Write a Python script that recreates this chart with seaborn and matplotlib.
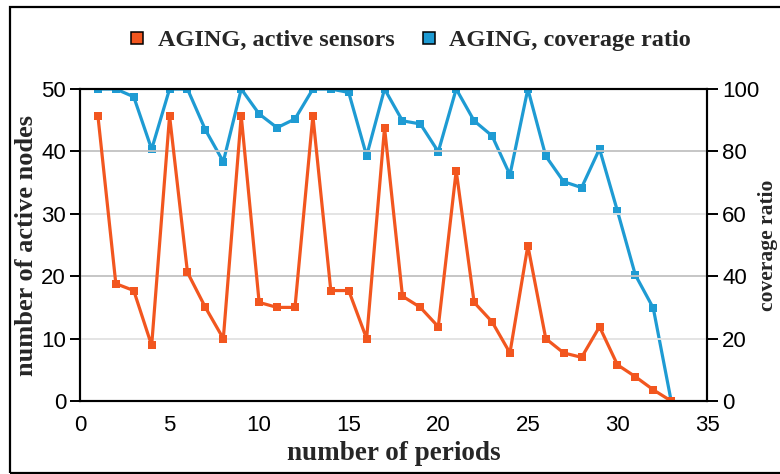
import matplotlib
matplotlib.use("Agg")
import matplotlib.pyplot as plt
import seaborn as sns
import pandas as pd
from matplotlib.lines import Line2D
from matplotlib.patches import Rectangle

periods = list(range(1, 34))
active_sensors = [45.7, 18.8, 17.7, 8.9, 45.7, 20.6, 15.0, 10.0, 45.7, 15.8,
                  15.0, 15.0, 45.7, 17.7, 17.7, 10.0, 43.8, 16.8, 15.0, 11.9,
                  36.9, 15.8, 12.7, 7.7, 24.9, 10.0, 7.7, 7.0, 11.9, 5.8,
                  3.9, 1.8, 0.0]
coverage_ratio = [100, 100, 97.5, 80.7, 100, 100, 86.9, 76.7, 100, 92.0,
                  87.6, 90.4, 100, 100, 98.9, 78.6, 100, 89.8, 88.8, 79.9,
                  100, 89.8, 85.0, 72.5, 100, 78.5, 70.3, 68.4, 80.8, 60.9,
                  40.4, 29.8, 0.0]
left_ticks = [0, 10, 20, 30, 40, 50]
right_ticks = [0, 20, 40, 60, 80, 100]
x_ticks = [0, 5, 10, 15, 20, 25, 30, 35]
labels = ["AGING, active sensors", "AGING, coverage ratio"]

orange = "#f2561f"
blue = "#1e9bd3"

sns.set_style("white")
plt.rcParams['font.family'] = ['Liberation Sans', 'DejaVu Sans']

df = pd.DataFrame({"period": periods, "active": active_sensors, "coverage": coverage_ratio})

fig = plt.figure(figsize=(7.8, 4.74), dpi=100)
ax = fig.add_axes([80/780, 1 - 401/474, 627/780, 312/474])
ax2 = ax.twinx()

sns.lineplot(data=df, x="period", y="coverage", ax=ax2, color=blue, marker="s",
             markersize=5.5, markeredgewidth=0, linewidth=2.3)
sns.lineplot(data=df, x="period", y="active", ax=ax, color=orange, marker="s",
             markersize=5.5, markeredgewidth=0, linewidth=2.3)
ax.set_zorder(ax2.get_zorder() + 1)
ax.patch.set_visible(False)

ax.set_xlim(0, 35)
ax.set_ylim(0, 50)
ax2.set_ylim(0, 100)
ax.set_xticks(x_ticks)
ax.set_yticks(left_ticks)
ax2.set_yticks(right_ticks)

serif = dict(family=['Liberation Serif', 'DejaVu Serif'], weight='bold')
ax.set_xlabel("number of periods", fontsize=19.5, labelpad=4, **serif)
ax.set_ylabel("number of active nodes", fontsize=19, labelpad=2, **serif)
ax2.set_ylabel("coverage ratio", fontsize=15.5, **serif)
ax2.yaxis.set_label_coords((758 - 80) / 627, 0.5)

for a in (ax, ax2):
    a.tick_params(axis='both', direction='out', length=7, width=1.4,
                  labelsize=16, colors='black', pad=3)
    for s in a.spines.values():
        s.set_color('black')
        s.set_linewidth(1.5)
ax2.tick_params(axis='y', length=8)

ax.yaxis.grid(True, linewidth=1.3)
ax.set_axisbelow(True)
for val, gl in zip(left_ticks, ax.get_ygridlines()):
    gl.set_color("#c2c2c2" if val in (20, 40) else "#e2e2e2")

handles = [Line2D([0], [0], marker='s', linestyle='none', markersize=9,
                  markerfacecolor=c, markeredgecolor='black', markeredgewidth=1.1)
           for c in (orange, blue)]
fig.legend(handles, labels, loc='center', bbox_to_anchor=(408/780, 1 - 40/474),
           ncol=2, frameon=False, handlelength=1.0, handletextpad=0.35, columnspacing=0.9,
           prop=dict(family=['Liberation Serif', 'DejaVu Serif'], weight='bold', size=17.5))

fig.patches.append(Rectangle((10/780, 1.5/474), 1.2, 1 - 8.5/474, transform=fig.transFigure,
                             fill=False, edgecolor='black', linewidth=1.6, clip_on=False))

fig.savefig("out.png", dpi=100)
